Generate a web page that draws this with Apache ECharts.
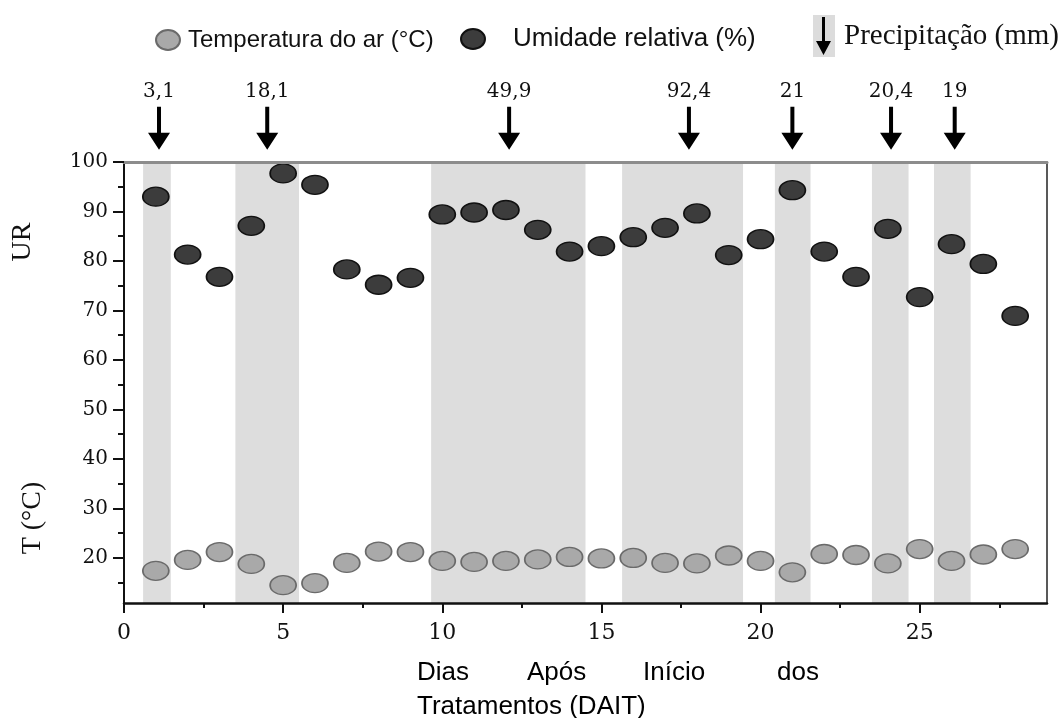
<!DOCTYPE html>
<html>
<head>
<meta charset="utf-8">
<script src="https://cdn.jsdelivr.net/npm/echarts@6/dist/echarts.min.js"></script>
<style>
  html, body { margin: 0; padding: 0; background: #fff; }
  #chart { width: 1064px; height: 718px; }
</style>
</head>
<body>
<div id="chart"></div>
<script>
// Days after the start of the treatments (DAIT)
const days = [1, 2, 3, 4, 5, 6, 7, 8, 9, 10, 11, 12, 13, 14, 15, 16, 17, 18, 19, 20, 21, 22, 23, 24, 25, 26, 27, 28];
// Air temperature (°C)
const temperature = [17.4, 19.6, 21.2, 18.8, 14.5, 14.9, 19.0, 21.3, 21.2, 19.4, 19.2, 19.4, 19.7, 20.2, 19.9, 20.0, 19.0, 18.9, 20.5, 19.4, 17.1, 20.8, 20.6, 18.9, 21.8, 19.4, 20.7, 21.8];
// Relative humidity (%)
const humidity = [93.0, 81.3, 76.8, 87.1, 97.7, 95.4, 78.3, 75.2, 76.6, 89.4, 89.8, 90.3, 86.3, 81.9, 83.0, 84.8, 86.7, 89.6, 81.2, 84.4, 94.3, 81.9, 76.8, 86.5, 72.7, 83.4, 79.4, 68.9];
// Rain events: day and amount (mm)
const rainDay = [1.1, 4.5, 12.1, 17.75, 21.0, 24.1, 26.1];
const rainMm = [3.1, 18.1, 49.9, 92.4, 21, 20.4, 19];
// Rainy periods (shaded)
const bandStart = [0.6, 3.5, 9.65, 15.65, 20.45, 23.5, 25.45];
const bandEnd = [1.47, 5.5, 14.5, 19.45, 21.57, 24.65, 26.6];
// Axis ticks
const xTicks = [0, 5, 10, 15, 20, 25];
const xMinorTicks = [2.5, 7.5, 12.5, 17.5, 22.5, 27.5];
const yTicks = [20, 30, 40, 50, 60, 70, 80, 90, 100];
const yMinorTicks = [15, 25, 35, 45, 55, 65, 75, 85, 95];

const X_MIN = 0, X_MAX = 29, Y_MIN = 10.9, Y_MAX = 100;
const ARROW_Y = 106.8; // arrows sit just above the plot frame
const ELLIPSE = 'path://M0,10A12,10,0,1,1,24,10A12,10,0,1,1,0,10Z';
const ARROW = 'path://M9,0H13V26H22L11,43L0,26H9Z';
const LEGEND_ARROW = 'path://M6,0H9V24H15L7.5,38L0,24H6Z';
const SERIF_NUM = 'DejaVu Serif';
const SERIF = 'Liberation Serif';
const SANS = 'Liberation Sans';

const chart = echarts.init(document.getElementById('chart'), null, { renderer: 'canvas' });

const hidden = { show: false };
const baseX = { type: 'value', min: X_MIN, max: X_MAX, splitLine: hidden, z: 5 };
const baseY = { type: 'value', min: Y_MIN, max: Y_MAX, splitLine: hidden, z: 5 };

const option = {
  animation: false,
  backgroundColor: '#ffffff',
  grid: { left: 124, right: 17, top: 162, bottom: 115 },
  xAxis: [
    Object.assign({}, baseX, {
      position: 'bottom',
      axisLine: { onZero: false, lineStyle: { color: '#111', width: 2.5 } },
      axisTick: { customValues: xTicks, length: 10, lineStyle: { color: '#111', width: 2 } },
      axisLabel: { customValues: xTicks, margin: 19, fontFamily: SERIF_NUM, fontSize: 22, color: '#111' }
    }),
    Object.assign({}, baseX, {
      position: 'bottom',
      axisLine: { show: false, onZero: false },
      axisTick: { customValues: xMinorTicks, length: 5, lineStyle: { color: '#111', width: 2 } },
      axisLabel: { customValues: xMinorTicks, show: false }
    }),
    Object.assign({}, baseX, {
      position: 'top',
      axisLine: { onZero: false, lineStyle: { color: '#8c8c8c', width: 3 } },
      axisTick: hidden,
      axisLabel: hidden
    })
  ],
  yAxis: [
    Object.assign({}, baseY, {
      position: 'left',
      axisLine: { onZero: false, lineStyle: { color: '#111', width: 2 } },
      axisTick: { customValues: yTicks, length: 11, lineStyle: { color: '#111', width: 2 } },
      axisLabel: { customValues: yTicks, margin: 16, fontFamily: SERIF_NUM, fontSize: 20, color: '#111' }
    }),
    Object.assign({}, baseY, {
      position: 'left',
      axisLine: { show: false, onZero: false },
      axisTick: { customValues: yMinorTicks, length: 6, lineStyle: { color: '#111', width: 2 } },
      axisLabel: { customValues: yMinorTicks, show: false }
    }),
    Object.assign({}, baseY, {
      position: 'right',
      axisLine: { onZero: false, lineStyle: { color: '#222', width: 1.5 } },
      axisTick: hidden,
      axisLabel: hidden
    })
  ],
  legend: [
    {
      left: 155, top: 28, padding: 0, selectedMode: false,
      itemWidth: 24, itemHeight: 20,
      data: [{ name: 'Temperatura do ar (°C)', icon: ELLIPSE }],
      textStyle: { fontFamily: SANS, fontSize: 24, color: '#111', padding: [0, 0, 0, 3] }
    },
    {
      left: 460, top: 26, padding: 0, selectedMode: false,
      itemWidth: 24, itemHeight: 20,
      data: [{ name: 'Umidade relativa (%)', icon: ELLIPSE }],
      textStyle: { fontFamily: SANS, fontSize: 26, color: '#111', padding: [0, 0, 0, 23] }
    },
    {
      left: 816, top: 17, padding: 0, selectedMode: false,
      itemWidth: 15, itemHeight: 38,
      data: [{ name: 'Precipitação (mm)', icon: LEGEND_ARROW }],
      textStyle: { fontFamily: SERIF, fontSize: 29, color: '#111', padding: [10, 0, 0, 8] }
    }
  ],
  graphic: [
    { type: 'rect', z: 1, shape: { x: 813, y: 15, width: 22, height: 42 }, style: { fill: '#dcdcdc' } },
    { type: 'text', x: 23, y: 242, rotation: Math.PI / 2,
      style: { text: 'UR', font: '28px "Liberation Serif"', fill: '#111', align: 'center', verticalAlign: 'middle' } },
    { type: 'text', x: 33, y: 518, rotation: Math.PI / 2,
      style: { text: 'T (°C)', font: '28px "Liberation Serif"', fill: '#111', align: 'center', verticalAlign: 'middle' } },
    { type: 'text', x: 417, y: 673, style: { text: 'Dias', font: '26px "Liberation Sans"', fill: '#000', align: 'left', verticalAlign: 'middle' } },
    { type: 'text', x: 527, y: 673, style: { text: 'Após', font: '26px "Liberation Sans"', fill: '#000', align: 'left', verticalAlign: 'middle' } },
    { type: 'text', x: 643, y: 673, style: { text: 'Início', font: '26px "Liberation Sans"', fill: '#000', align: 'left', verticalAlign: 'middle' } },
    { type: 'text', x: 777, y: 673, style: { text: 'dos', font: '26px "Liberation Sans"', fill: '#000', align: 'left', verticalAlign: 'middle' } },
    { type: 'text', x: 417, y: 707, style: { text: 'Tratamentos (DAIT)', font: '26px "Liberation Sans"', fill: '#000', align: 'left', verticalAlign: 'middle' } }
  ],
  series: [
    {
      name: 'Precipitação (mm)',
      type: 'scatter',
      clip: false,
      z: 2,
      symbol: ARROW,
      symbolSize: [22, 43],
      itemStyle: { color: '#000', opacity: 1 },
      data: rainDay.map((d) => [d, ARROW_Y]),
      label: {
        show: true, position: 'top', distance: 5,
        fontFamily: SERIF_NUM, fontSize: 20, color: '#111',
        formatter: (p) => String(rainMm[p.dataIndex]).replace('.', ',')
      },
      markArea: {
        silent: true,
        z: 1,
        itemStyle: { color: '#dddddd' },
        data: bandStart.map((s, i) => [{ xAxis: s }, { xAxis: bandEnd[i] }])
      }
    },
    {
      name: 'Temperatura do ar (°C)',
      type: 'scatter',
      z: 3,
      symbol: ELLIPSE,
      symbolSize: [26, 19],
      itemStyle: { color: '#a9a9a9', borderColor: '#6a6a6a', borderWidth: 1.5, opacity: 1 },
      data: days.map((d, i) => [d, temperature[i]])
    },
    {
      name: 'Umidade relativa (%)',
      type: 'scatter',
      z: 3,
      symbol: ELLIPSE,
      symbolSize: [26, 19],
      itemStyle: { color: '#3c3c3c', borderColor: '#111', borderWidth: 1.5, opacity: 1 },
      data: days.map((d, i) => [d, humidity[i]])
    }
  ]
};

chart.setOption(option);
</script>
</body>
</html>
